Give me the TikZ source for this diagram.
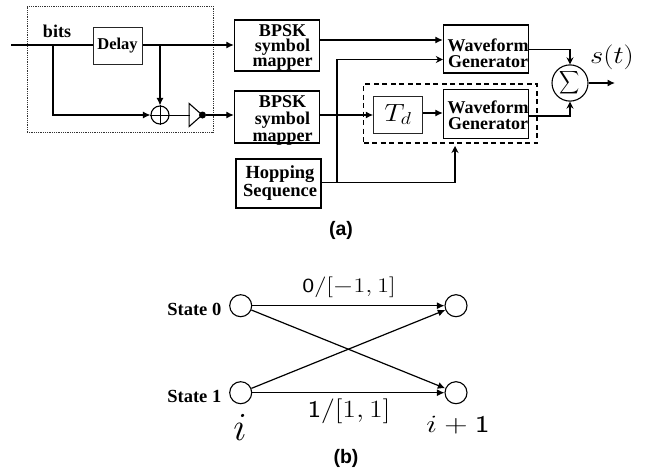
\documentclass[tikz,border=0pt]{standalone}
\usepackage{graphicx}
\usepackage{fontspec}
\newfontfamily\tms{Liberation Serif}[Ligatures=TeX]
\newfontfamily\hlv{Liberation Sans}
\usetikzlibrary{arrows.meta,shapes.geometric}
\tikzset{
  lab/.style={font=\tms\bfseries\fontsize{18}{15}\selectfont,align=center,inner sep=0pt},
  blk/.style={draw=black,line width=1.4pt,inner sep=0pt},
  thinblk/.style={draw=black!85,line width=1pt,inner sep=0pt},
  wire/.style={line width=1.2pt,-{Latex[length=7.5pt,width=7pt]}},
  plain/.style={line width=1.2pt},
  thinw/.style={line width=1.2pt,-{Stealth[length=7pt,width=7pt]}},
  circ/.style={circle,draw=black,line width=1.1pt,minimum size=22pt,inner sep=0pt},
  capt/.style={font=\hlv\bfseries\fontsize{19.5}{20}\selectfont,inner sep=0pt},
  matht/.style={inner sep=0pt}
}
\begin{document}
\begin{tikzpicture}[x=1pt,y=-1pt]
\useasboundingbox (0,0) rectangle (653,471);
% dotted enclosure
\node[draw=black!80,densely dotted,line width=0.8pt,minimum width=186pt,minimum height=126pt,inner sep=0pt] (enc) at (120,69) {};
% blocks
\node[thinblk,font=\tms\bfseries\fontsize{16.5}{16}\selectfont,minimum width=49pt,minimum height=37pt] (delay) at (117.5,45.5) {Delay};
\node[blk,minimum width=85pt,minimum height=51pt] (m1) at (277,45.5) {};
\node[lab] (m1t) at (282.5,47.5) {BPSK\\symbol\\mapper};
\node[blk,minimum width=85pt,minimum height=52pt] (m2) at (277,117) {};
\node[lab,font=\tms\bfseries\fontsize{18}{17}\selectfont] (m2t) at (282.5,120) {BPSK\\symbol\\mapper};
\node[blk,minimum width=85pt,minimum height=49pt] (hop) at (278.5,183.5) {};
\node[lab,font=\tms\bfseries\fontsize{18.5}{15.7}\selectfont] (hopt) at (280,183) {Hopping\\Sequence};
\node[blk,minimum width=85pt,minimum height=48pt] (w1) at (486,49) {};
\node[lab,font=\tms\bfseries\fontsize{18}{16.5}\selectfont] (w1t) at (488,53) {Waveform\\Generator};
\node[blk,minimum width=85pt,minimum height=48.5pt] (w2) at (486,114) {};
\node[lab,font=\tms\bfseries\fontsize{18}{16.5}\selectfont] (w2t) at (488,115) {Waveform\\Generator};
\node[thinblk,minimum width=48.5pt,minimum height=37pt,font=\fontsize{25}{25}\selectfont] (td) at (398,114.5) {\scalebox{1.15}[1]{$T_d$}};
\node[draw=black,dash pattern=on 5pt off 3.5pt,line width=1.4pt,minimum width=173.5pt,minimum height=59pt,inner sep=0pt] (dbox) at (450.3,113.5) {};
\node[ellipse,draw=black,line width=1.1pt,minimum width=36pt,minimum height=33pt,inner sep=0pt] (sum) at (570,83) {\scalebox{1.4}[1.6]{$\displaystyle\sum$}};
\node[circle,draw=black,line width=1.1pt,minimum size=18pt,inner sep=0pt] (xor) at (160,115) {};
\draw[line width=0.9pt] (xor.north) -- (xor.south) (xor.west) -- (xor.east);
\node[isosceles triangle,isosceles triangle apex angle=83,draw=black,line width=1.1pt,minimum height=13pt,inner sep=0pt,anchor=apex] (amp) at (203,115) {};
\node[circle,fill=black,minimum size=7pt,inner sep=0pt] (dot) at (202.5,115) {};
% labels
\node[lab] (bits) at (57,31.5) {bits};
\node[matht,font=\fontsize{23}{23}\selectfont] (st) at (612,57) {\scalebox{1.15}[1]{$s(t)$}};
\node[capt] (capa) at (341,230) {(a)};
% free ends and junctions
\coordinate (in) at (11,45);
\coordinate (j1) at (53,45);
\coordinate (j2) at (160,45);
\coordinate (ampin) at (190,115);
\coordinate (hj) at (337,182.5);
\coordinate (w1a) at (w1.west|-0,40);
\coordinate (m1a) at (m1.east|-0,40);
\coordinate (w1b) at (w1.west|-0,59.5);
\coordinate (td1) at (td.west|-0,115);
\coordinate (m2a) at (m2.east|-0,115);
\coordinate (w1o) at (w1.east|-0,49.5);
\coordinate (w2o) at (w2.east|-0,116);
\coordinate (out) at (615,83);
\coordinate (dbin) at (455,146);
\coordinate (hop2) at (hop.east|-hj);
% connectors
\draw[plain] (in) -- (delay.west|-in);
\draw[wire] (delay.east|-j2) -- (m1.west|-j2);
\draw[wire] (j1) |- (xor.west);
\draw[wire] (j2) -- (xor.north);
\draw[line width=0.9pt] (xor.east) -- (ampin);
\draw[wire] (dot) -- (m2.west|-dot);
\draw[wire] (m1a) -- (w1a);
\draw[plain] (hop2) -- (hj);
\draw[thinw] (hj) |- (w1b);
\draw[wire] (m2a) -- (td1);
\draw[wire] (td.east|-0,113) -- (w2.west|-0,113);
\draw[thinw] (hj) -| (dbin);
\draw[thinw] (w1o) -| (sum.north);
\draw[thinw] (w2o) -| (sum.south);
\draw[wire] (sum.east) -- (out);
% trellis
\node[circ] (a0) at (240.7,305.7) {};
\node[circ] (a1) at (240.7,392.7) {};
\node[circ] (b0) at (456,305.7) {};
\node[circ] (b1) at (456,392.7) {};
\node[lab,anchor=east,font=\tms\bfseries\fontsize{18.5}{18}\selectfont] (s0) at (221.5,309) {State 0};
\node[lab,anchor=east,font=\tms\bfseries\fontsize{18.5}{18}\selectfont] (s1) at (221.5,396) {State 1};
\node[matht,font=\fontsize{20}{20}\selectfont] (top) at (349,287) {\scalebox{1.27}[1]{$\mathsf{0}/[-1,1]$}};
\node[matht,font=\fontsize{24}{24}\selectfont] (bot) at (349,411) {\scalebox{1.2}[1]{$\mathsf{1}/[1,1]$}};
\node[matht,font=\fontsize{24}{24}\selectfont] (ti) at (240,427) {\scalebox{1.6}{$i$}};
\node[matht,font=\fontsize{24}{24}\selectfont] (tip) at (458,425) {\scalebox{1.3}[1]{$i+\mathsf{1}$}};
\node[capt] (capb) at (346,458) {(b)};
\draw[wire] (a0) -- (b0);
\draw[wire] (a1) -- (b1);
\draw[wire] (a0) -- (b1);
\draw[wire] (a1) -- (b0);
\end{tikzpicture}
\end{document}
